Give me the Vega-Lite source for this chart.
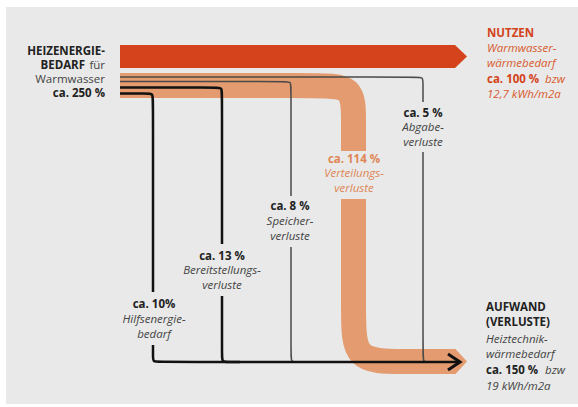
{
  "$schema": "https://vega.github.io/schema/vega-lite/v6.json",
  "width": 572,
  "height": 397,
  "padding": {"left": 6, "top": 7, "right": 0, "bottom": 3},
  "autosize": {"type": "none"},
  "background": "#ffffff",
  "config": {"view": {"stroke": null, "fill": "#e8e9e8"}},
  "datasets": {
    "red": [
      {"x": 120, "y": 45, "y2": 68},
      {"x": 455, "y": 45, "y2": 68},
      {"x": 467, "y": 56.5, "y2": 56.5}
    ],
    "orangeHead": [
      {"x": 455, "y": 348.5, "y2": 374.5},
      {"x": 467, "y": 361.5, "y2": 361.5}
    ],
    "orangeBand": [
      {"seg": "a", "o": 1, "x": 120, "y": 85.5},
      {"seg": "a", "o": 2, "x": 318, "y": 85.5},
      {"seg": "a", "o": 3, "x": 353.5, "y": 85.5},
      {"seg": "a", "o": 4, "x": 353.5, "y": 121},
      {"seg": "a", "o": 5, "x": 353.5, "y": 151},
      {"seg": "b", "o": 1, "x": 353.5, "y": 199},
      {"seg": "b", "o": 2, "x": 353.5, "y": 314},
      {"seg": "b", "o": 3, "x": 353.5, "y": 361.5},
      {"seg": "b", "o": 4, "x": 401, "y": 361.5},
      {"seg": "b", "o": 5, "x": 455.5, "y": 361.5}
    ],
    "thick": [
      {"seg": "h1", "o": 1, "x": 120, "y": 93.5},
      {"seg": "h1", "o": 2, "x": 147, "y": 93.5},
      {"seg": "h1", "o": 3, "x": 153, "y": 93.5},
      {"seg": "h1", "o": 4, "x": 153, "y": 100},
      {"seg": "h1", "o": 5, "x": 153, "y": 292},
      {"seg": "h2", "o": 1, "x": 153, "y": 345},
      {"seg": "h2", "o": 2, "x": 153, "y": 356},
      {"seg": "h2", "o": 3, "x": 153, "y": 362},
      {"seg": "h2", "o": 4, "x": 159, "y": 362},
      {"seg": "h2", "o": 5, "x": 460, "y": 362},
      {"seg": "b1", "o": 1, "x": 120, "y": 87.5},
      {"seg": "b1", "o": 2, "x": 216, "y": 87.5},
      {"seg": "b1", "o": 3, "x": 222, "y": 87.5},
      {"seg": "b1", "o": 4, "x": 222, "y": 94},
      {"seg": "b1", "o": 5, "x": 222, "y": 244},
      {"seg": "b2", "o": 1, "x": 222, "y": 296},
      {"seg": "b2", "o": 2, "x": 222, "y": 356},
      {"seg": "b2", "o": 3, "x": 222, "y": 362},
      {"seg": "b2", "o": 4, "x": 228, "y": 362},
      {"seg": "b2", "o": 5, "x": 240, "y": 362}
    ],
    "thin": [
      {"seg": "s1", "o": 1, "x": 120, "y": 81.5},
      {"seg": "s1", "o": 2, "x": 285, "y": 81.5},
      {"seg": "s1", "o": 3, "x": 291, "y": 81.5},
      {"seg": "s1", "o": 4, "x": 291, "y": 88},
      {"seg": "s1", "o": 5, "x": 291, "y": 196},
      {"seg": "s2", "o": 1, "x": 291, "y": 247},
      {"seg": "s2", "o": 2, "x": 291, "y": 356},
      {"seg": "s2", "o": 3, "x": 291, "y": 362},
      {"seg": "s2", "o": 4, "x": 297, "y": 362},
      {"seg": "s2", "o": 5, "x": 310, "y": 362},
      {"seg": "a1", "o": 1, "x": 120, "y": 77},
      {"seg": "a1", "o": 2, "x": 417, "y": 77},
      {"seg": "a1", "o": 3, "x": 423, "y": 77},
      {"seg": "a1", "o": 4, "x": 423, "y": 83},
      {"seg": "a1", "o": 5, "x": 423, "y": 102},
      {"seg": "a2", "o": 1, "x": 423, "y": 152},
      {"seg": "a2", "o": 2, "x": 423, "y": 356},
      {"seg": "a2", "o": 3, "x": 423, "y": 362},
      {"seg": "a2", "o": 4, "x": 429, "y": 362},
      {"seg": "a2", "o": 5, "x": 440, "y": 362}
    ],
    "chevron": [
      {"o": 1, "x": 448, "y": 354},
      {"o": 2, "x": 460, "y": 362},
      {"o": 3, "x": 448, "y": 370}
    ],
    "leftBold": [
      {"x": 105, "y": 51.5, "t": "HEIZENERGIE-"},
      {"x": 85, "y": 65.5, "t": "BEDARF"},
      {"x": 105, "y": 93.5, "t": "ca. 250 %"}
    ],
    "leftRegular": [
      {"x": 105, "y": 65.5, "t": "für"},
      {"x": 105, "y": 79.5, "t": "Warmwasser"}
    ],
    "redBold": [
      {"x": 487, "y": 33.5, "t": "NUTZEN"},
      {"x": 487, "y": 79.5, "t": "ca. 100 %"}
    ],
    "redItalic": [
      {"x": 487, "y": 48.5, "t": "Warmwasser-"},
      {"x": 487, "y": 63.5, "t": "wärmebedarf"},
      {"x": 545, "y": 79.5, "t": "bzw"},
      {"x": 487, "y": 95, "t": "12,7 kWh/m2a"}
    ],
    "darkBoldLeft": [
      {"x": 486, "y": 308, "t": "AUFWAND"},
      {"x": 486, "y": 323, "t": "(VERLUSTE)"},
      {"x": 486, "y": 371, "t": "ca. 150 %"}
    ],
    "grayItalicLeft": [
      {"x": 486, "y": 340, "t": "Heiztechnik-"},
      {"x": 486, "y": 355, "t": "wärmebedarf"},
      {"x": 545, "y": 371, "t": "bzw"},
      {"x": 486, "y": 387, "t": "19 kWh/m2a"}
    ],
    "darkBoldCenter": [
      {"x": 423, "y": 113.5, "t": "ca. 5 %"},
      {"x": 290, "y": 207, "t": "ca. 8 %"},
      {"x": 222, "y": 256.5, "t": "ca. 13 %"},
      {"x": 154, "y": 305, "t": "ca. 10%"}
    ],
    "grayItalicCenter": [
      {"x": 423, "y": 128, "t": "Abgabe-"},
      {"x": 423, "y": 142.5, "t": "verluste"},
      {"x": 290, "y": 222, "t": "Speicher-"},
      {"x": 290, "y": 237, "t": "verluste"},
      {"x": 222, "y": 270.5, "t": "Bereitstellungs-"},
      {"x": 222, "y": 286, "t": "verluste"},
      {"x": 154, "y": 320, "t": "Hilfsenergie-"},
      {"x": 154, "y": 334.5, "t": "bedarf"}
    ],
    "orangeBold": [
      {"x": 354, "y": 160, "t": "ca. 114 %"}
    ],
    "orangeItalic": [
      {"x": 354, "y": 174, "t": "Verteilungs-"},
      {"x": 354, "y": 188.5, "t": "verluste"}
    ]
  },
  "encoding": {
    "x": {"field": "x", "type": "quantitative", "scale": {"domain": [6, 578], "nice": false, "zero": false}, "axis": null},
    "y": {"field": "y", "type": "quantitative", "scale": {"domain": [7, 404], "reverse": true, "nice": false, "zero": false}, "axis": null}
  },
  "layer": [
    {
      "data": {"name": "orangeBand"},
      "mark": {"type": "line", "interpolate": "basis", "strokeWidth": 25, "strokeCap": "butt", "color": "#e39b6f"},
      "encoding": {"detail": {"field": "seg"}, "order": {"field": "o", "type": "quantitative"}}
    },
    {
      "data": {"name": "orangeHead"},
      "mark": {"type": "area", "color": "#e39b6f", "orient": "vertical"},
      "encoding": {"y2": {"field": "y2"}}
    },
    {
      "data": {"name": "red"},
      "mark": {"type": "area", "color": "#d4431b", "orient": "vertical"},
      "encoding": {"y2": {"field": "y2"}}
    },
    {
      "data": {"name": "thin"},
      "mark": {"type": "line", "interpolate": "basis", "strokeWidth": 1.5, "color": "#4a4a4a"},
      "encoding": {"detail": {"field": "seg"}, "order": {"field": "o", "type": "quantitative"}}
    },
    {
      "data": {"name": "thick"},
      "mark": {"type": "line", "interpolate": "basis", "strokeWidth": 2.5, "color": "#111111"},
      "encoding": {"detail": {"field": "seg"}, "order": {"field": "o", "type": "quantitative"}}
    },
    {
      "data": {"name": "chevron"},
      "mark": {"type": "line", "strokeWidth": 3, "color": "#111111", "strokeJoin": "miter"},
      "encoding": {"order": {"field": "o", "type": "quantitative"}}
    },
    {
      "data": {"name": "leftBold"},
      "mark": {"type": "text", "align": "right", "baseline": "middle", "font": "Open Sans", "fontSize": 11.5, "fontWeight": "bold", "color": "#222222"},
      "encoding": {"text": {"field": "t"}}
    },
    {
      "data": {"name": "leftRegular"},
      "mark": {"type": "text", "align": "right", "baseline": "middle", "font": "Open Sans", "fontSize": 11.5, "color": "#444444"},
      "encoding": {"text": {"field": "t"}}
    },
    {
      "data": {"name": "redBold"},
      "mark": {"type": "text", "align": "left", "baseline": "middle", "font": "Open Sans", "fontSize": 11.5, "fontWeight": "bold", "color": "#d4431b"},
      "encoding": {"text": {"field": "t"}}
    },
    {
      "data": {"name": "redItalic"},
      "mark": {"type": "text", "align": "left", "baseline": "middle", "font": "Open Sans", "fontSize": 11.5, "fontStyle": "italic", "color": "#d95a2f"},
      "encoding": {"text": {"field": "t"}}
    },
    {
      "data": {"name": "darkBoldLeft"},
      "mark": {"type": "text", "align": "left", "baseline": "middle", "font": "Open Sans", "fontSize": 11.5, "fontWeight": "bold", "color": "#222222"},
      "encoding": {"text": {"field": "t"}}
    },
    {
      "data": {"name": "grayItalicLeft"},
      "mark": {"type": "text", "align": "left", "baseline": "middle", "font": "Open Sans", "fontSize": 11.5, "fontStyle": "italic", "color": "#444444"},
      "encoding": {"text": {"field": "t"}}
    },
    {
      "data": {"name": "darkBoldCenter"},
      "mark": {"type": "text", "align": "center", "baseline": "middle", "font": "Open Sans", "fontSize": 11.5, "fontWeight": "bold", "color": "#222222"},
      "encoding": {"text": {"field": "t"}}
    },
    {
      "data": {"name": "grayItalicCenter"},
      "mark": {"type": "text", "align": "center", "baseline": "middle", "font": "Open Sans", "fontSize": 11.5, "fontStyle": "italic", "color": "#444444"},
      "encoding": {"text": {"field": "t"}}
    },
    {
      "data": {"name": "orangeBold"},
      "mark": {"type": "text", "align": "center", "baseline": "middle", "font": "Open Sans", "fontSize": 11.5, "fontWeight": "bold", "color": "#e08656"},
      "encoding": {"text": {"field": "t"}}
    },
    {
      "data": {"name": "orangeItalic"},
      "mark": {"type": "text", "align": "center", "baseline": "middle", "font": "Open Sans", "fontSize": 11.5, "fontStyle": "italic", "color": "#e08656"},
      "encoding": {"text": {"field": "t"}}
    }
  ]
}
